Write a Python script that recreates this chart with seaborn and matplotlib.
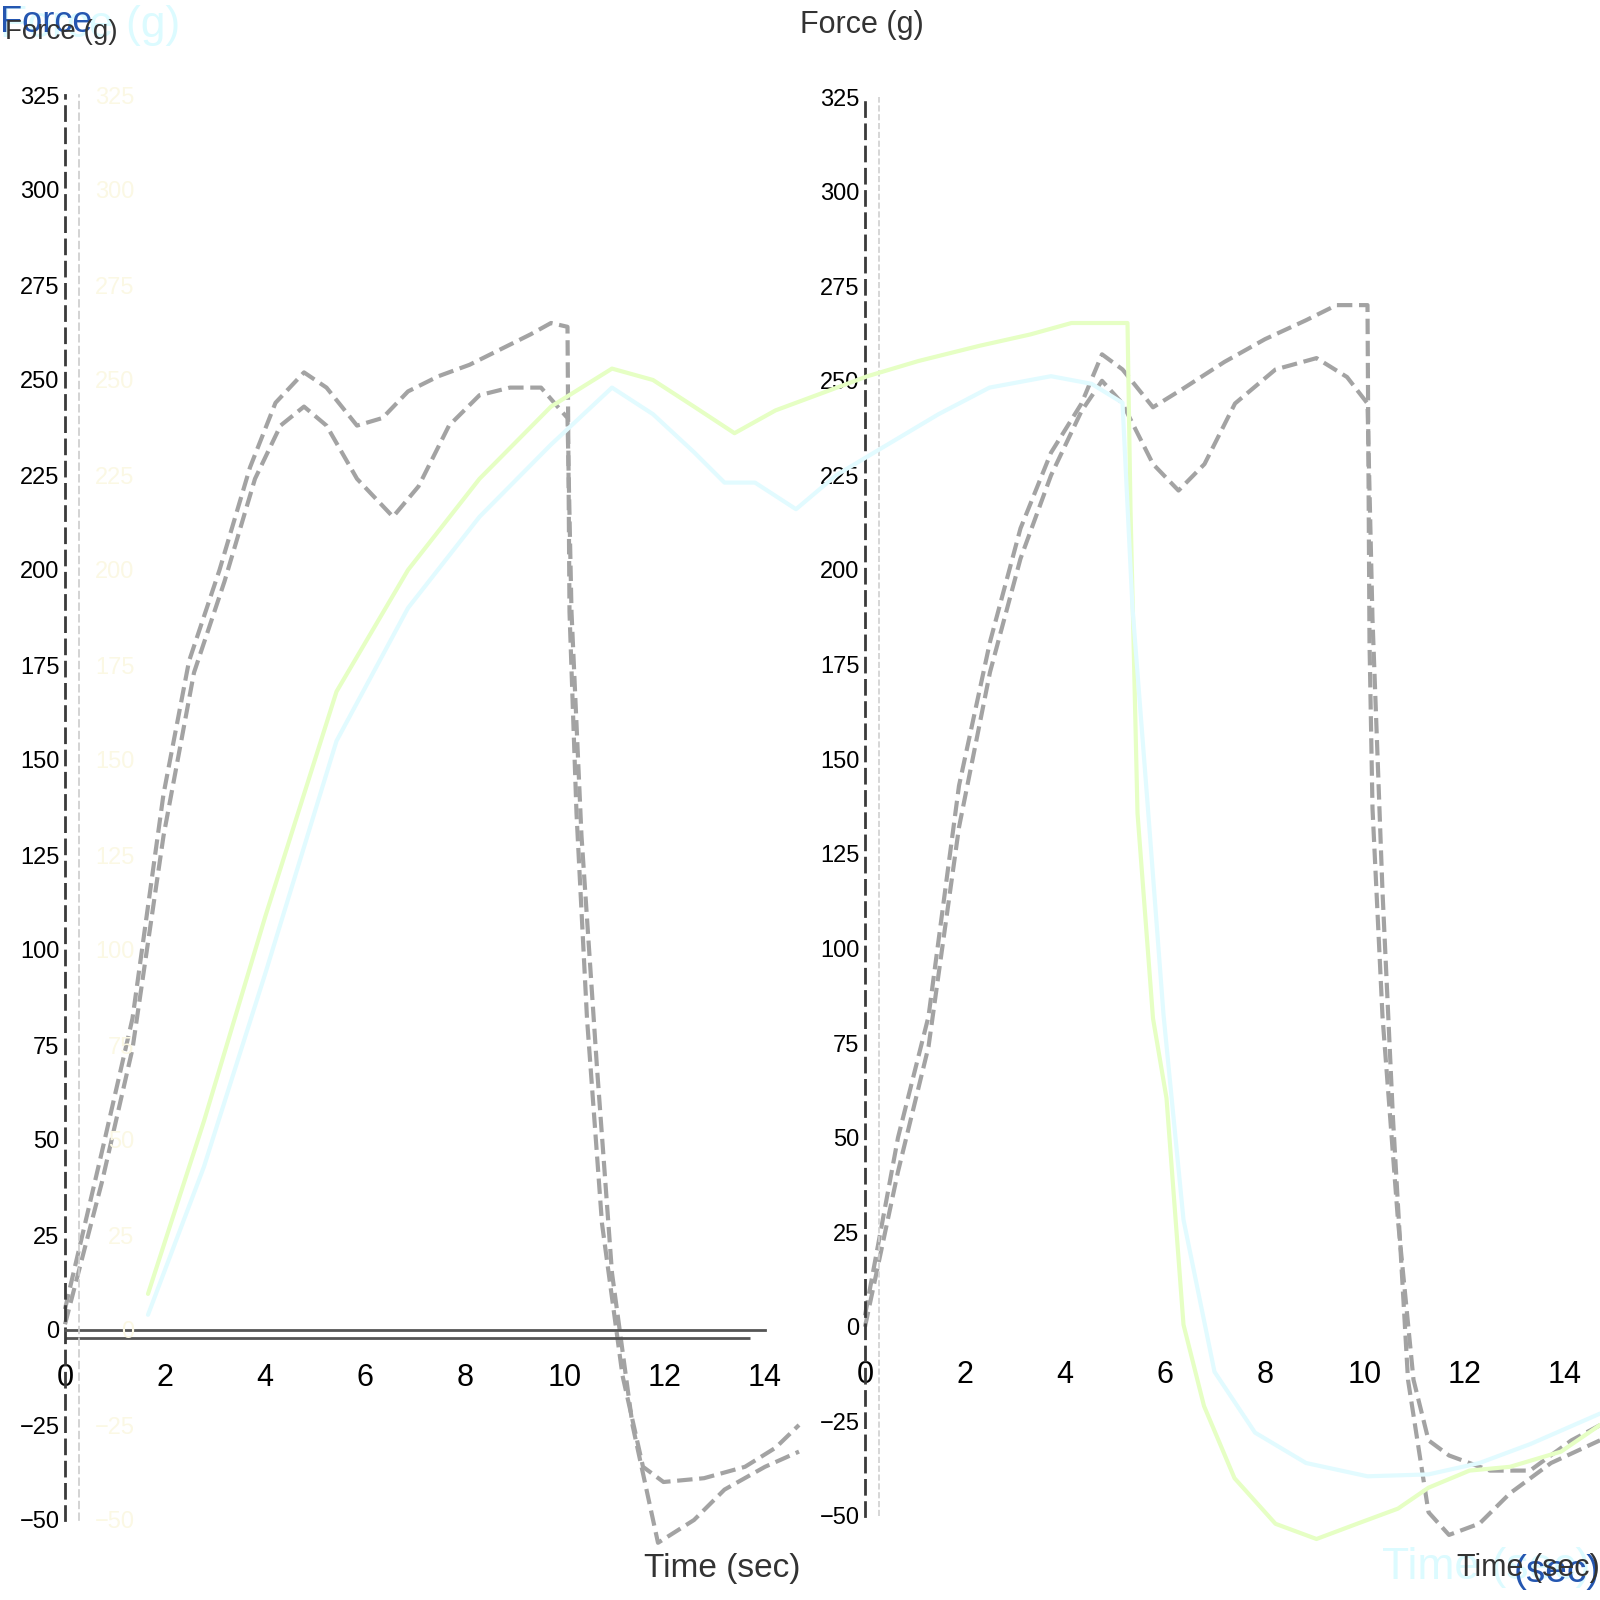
import numpy as np
import pandas as pd
import seaborn as sns
import matplotlib.pyplot as plt

sns.set_style("white")
plt.rcParams['font.family'] = ['Liberation Sans', 'DejaVu Sans']

# ---- left panel, two grey traces (time in sec, force in g)
left_up_t = [0, 0.74, 1.35, 1.97, 2.48, 3.09, 3.7, 4.21, 4.78, 5.23, 5.84, 6.35, 6.86, 7.47, 8.09, 8.7, 9.31, 9.72, 10.05,
             10.09, 10.23, 10.44, 10.74, 11.15, 11.56, 11.97, 12.78, 13.6, 14.21, 14.68]
left_up_f = [5.5, 47, 82, 141, 176, 200, 227, 244, 252, 248, 238, 240, 247, 251, 254, 258, 262, 265, 264,
             189, 136, 82, 28, -12, -36, -40, -39, -36, -31, -25]
left_lo_t = [0, 0.74, 1.35, 1.97, 2.58, 3.19, 3.8, 4.31, 4.78, 5.23, 5.84, 6.56, 7.07, 7.68, 8.29, 8.9, 9.52, 10.05,
             10.13, 10.33, 10.64, 10.94, 11.35, 11.86, 12.58, 13.19, 14.0, 14.68]
left_lo_f = [1.5, 39, 74, 130, 173, 197, 224, 238, 243, 238, 224, 214, 222, 238, 246, 248, 248, 240,
             189, 130, 69, 15, -25, -56, -50, -42, -36, -32]

# ---- right panel, two grey traces
right_up_t = [0, 0.66, 1.27, 1.88, 2.5, 3.11, 3.72, 4.33, 4.74, 5.15, 5.76, 6.37, 7.19, 8.0, 8.82, 9.43, 10.05,
              10.09, 10.15, 10.35, 10.66, 10.97, 11.27, 11.68, 12.5, 13.3, 14.13, 14.7]
right_up_f = [3, 50, 82, 143, 181, 211, 231, 244, 257, 253, 243, 248, 255, 261, 266, 270, 270,
              181, 137, 82, 28, -14, -30, -34, -38, -38, -30, -26]
right_lo_t = [0, 0.66, 1.27, 1.88, 2.5, 3.11, 3.72, 4.33, 4.74, 5.15, 5.76, 6.27, 6.79, 7.4, 8.21, 9.03, 9.64, 10.05,
              10.15, 10.35, 10.56, 10.86, 11.27, 11.68, 12.29, 12.9, 13.72, 14.7]
right_lo_f = [0, 41, 74, 132, 173, 203, 225, 242, 250, 244, 228, 221, 228, 244, 253, 256, 251, 244,
              187, 115, 55, -14, -49, -55, -52, -44, -36, -30]

# ---- overlay traces spanning the whole figure
green_t = [1.66, 2.78, 4.01, 5.43, 6.86, 8.29, 9.72, 10.94, 11.76, 12.58, 13.39, 14.21, 15.03, 16.05, 17.07, 18.29,
           19.31, 20.13, 21.25, 21.31, 21.45, 21.76, 22.03, 22.37, 22.78, 23.39, 24.21, 25.03, 25.84, 26.66,
           27.27, 28.09, 28.9, 29.92, 30.7]
green_f = [9.5, 55, 109, 168, 200, 224, 243, 253, 250, 243, 236, 242, 246, 251, 255, 259,
           262, 265, 265, 216, 136, 82, 61, 1.4, -20, -39, -51, -55, -51, -47,
           -41.5, -37, -36, -32, -25]
cyan_t = [1.66, 2.78, 4.01, 5.43, 6.86, 8.29, 9.72, 10.94, 11.76, 12.58, 13.19, 13.8, 14.62, 15.43, 16.45, 17.47,
          18.49, 19.72, 20.53, 21.15, 21.35, 21.66, 21.97, 22.37, 22.99, 23.8, 24.82, 26.05, 27.27, 28.29,
          29.31, 30.7]
cyan_f = [4, 43, 94, 155, 190, 214, 233, 248, 241, 231, 223, 223, 216, 225, 233, 241,
          248, 251, 249, 244, 190, 137, 83, 29, -11, -27, -35, -38.5, -38, -35,
          -30, -22]

y_ticks = list(range(-50, 326, 25))
x_ticks = list(range(0, 15, 2))

W = 1600.0
fig = plt.figure(figsize=(16, 16), dpi=100)
fig.patch.set_facecolor('white')

grey = '#a3a3a3'
dark = '#3a3a3a'


def style_panel(ax, show_bottom_line):
    ax.set_xlim(0, 14.7)
    ax.set_ylim(-50, 325)
    ax.set_facecolor('none')
    for s in ['top', 'right']:
        ax.spines[s].set_visible(False)
    ax.spines['left'].set_position(('data', 0))
    ax.spines['left'].set_linestyle((0, (5, 3)))
    ax.spines['left'].set_color(dark)
    ax.spines['left'].set_linewidth(2)
    ax.spines['bottom'].set_position(('data', 0))
    ax.spines['bottom'].set_bounds(0, 14)
    if show_bottom_line:
        ax.spines['bottom'].set_color('#555555')
        ax.spines['bottom'].set_linewidth(2)
    else:
        ax.spines['bottom'].set_color('none')
    ax.set_xticks(x_ticks)
    ax.set_yticks(y_ticks)
    ax.tick_params(axis='y', direction='in', length=14, width=2, color='#555555',
                   labelsize=17, pad=4, labelcolor='black')
    ax.tick_params(axis='x', direction='out', length=16, width=2, color='#555555',
                   labelsize=22, pad=8, labelcolor='black')
    ax.set_xlabel('')
    ax.set_ylabel('')


line_kw = dict(linewidth=3, linestyle='--', sort=False, estimator=None, clip_on=False)

# left panel
ax_l = fig.add_axes([65 / W, 80 / W, 735 / W, 1425 / W])
sns.lineplot(x=left_up_t, y=left_up_f, ax=ax_l, color=grey, **line_kw)
sns.lineplot(x=left_lo_t, y=left_lo_f, ax=ax_l, color=grey, **line_kw)
ax_l.hlines(-2, 0, 13.7, color='#555555', linewidth=2)
style_panel(ax_l, True)

# right panel
ax_r = fig.add_axes([865 / W, 84 / W, 735 / W, 1419 / W])
sns.lineplot(x=right_up_t, y=right_up_f, ax=ax_r, color=grey, **line_kw)
sns.lineplot(x=right_lo_t, y=right_lo_f, ax=ax_r, color=grey, **line_kw)
ax_r.axvline(0.28, color='#cfcfcf', linewidth=1.2, linestyle='--')
style_panel(ax_r, False)

# overlay spanning the figure
ax_o = fig.add_axes([79 / W, 80 / W, 1521 / W, 1425 / W])
ax_o.set_facecolor('none')
sns.lineplot(x=green_t, y=green_f, ax=ax_o, color='#e6ffc4', linewidth=3,
             sort=False, estimator=None, clip_on=False)
sns.lineplot(x=cyan_t, y=cyan_f, ax=ax_o, color='#e2fbff', linewidth=3,
             sort=False, estimator=None, clip_on=False)
ax_o.set_xlim(0.28, 30.7)
ax_o.set_ylim(-50, 325)
for s in ['top', 'right', 'bottom']:
    ax_o.spines[s].set_visible(False)
ax_o.spines['left'].set_linestyle((0, (4, 3)))
ax_o.spines['left'].set_color('#cccccc')
ax_o.spines['left'].set_linewidth(1.2)
ax_o.set_xticks([])
ax_o.set_yticks(y_ticks)
ax_o.tick_params(axis='y', length=0, labelsize=17, pad=-40, labelcolor='#fbf8e4')
ax_o.set_xlabel('')
ax_o.set_ylabel('')

# axis titles (stacked copies, as in the reference)
fig.text(0 / W, 1 - 25 / W, 'Force (g)', fontsize=32, color='#dcfbff', va='center', ha='left')
fig.text(0 / W, 1 - 22 / W, 'Force', fontsize=26, color='#2456b0', va='center', ha='left')
fig.text(5 / W, 1 - 32 / W, 'Force (g)', fontsize=20, color='#333333', va='center', ha='left')
fig.text(800 / W, 1 - 25 / W, 'Force (g)', fontsize=22, color='#333333', va='center', ha='left')

fig.text(1590 / W, 32 / W, 'Time (sec)', fontsize=32, color='#dcfbff', va='center', ha='right')
fig.text(1600 / W, 28 / W, '(sec)', fontsize=28, color='#2456b0', va='center', ha='right')
fig.text(1600 / W, 32 / W, 'Time (sec)', fontsize=22, color='#333333', va='center', ha='right')
fig.text(800 / W, 32 / W, 'Time (sec)', fontsize=24, color='#333333', va='center', ha='right')

fig.savefig('out.png', dpi=100, facecolor='white')
